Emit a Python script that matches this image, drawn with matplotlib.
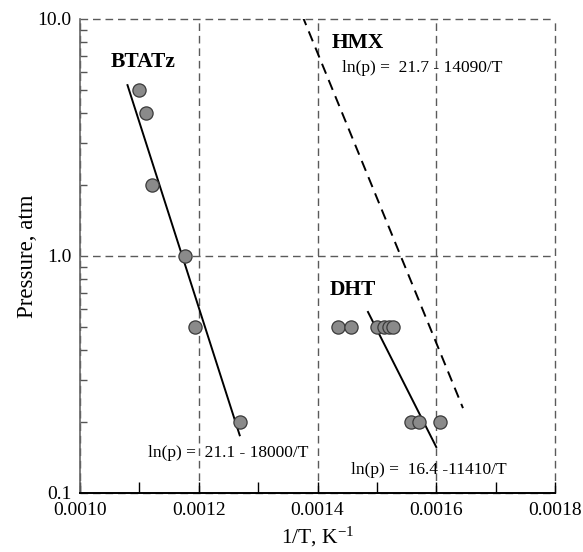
import numpy as np
import matplotlib
matplotlib.use("Agg")
import matplotlib.pyplot as plt
from matplotlib.ticker import FixedLocator, LogLocator, NullFormatter, MultipleLocator

plt.rcParams["font.family"] = ["Liberation Serif", "DejaVu Serif"]
plt.rcParams["mathtext.default"] = "regular"

# measured points (1/T, pressure in atm)
btatz_x = [0.001100, 0.001112, 0.001121, 0.001177, 0.001193, 0.001269]
btatz_p = [5.0, 4.0, 2.0, 1.0, 0.5, 0.2]
dht_x = [0.001435, 0.001457, 0.001500, 0.001512, 0.001520, 0.001527,
         0.001557, 0.001571, 0.001606]
dht_p = [0.5, 0.5, 0.5, 0.5, 0.5, 0.5, 0.2, 0.2, 0.2]

# fitted lines ln(p) = a - b/T, with the 1/T range each is drawn over
btatz_fit = (21.1, 18000, 0.00108, 0.001269)
dht_fit = (16.4, 11410, 0.001485, 0.0016)
hmx_fit = (21.7, 14090, 0.00136, 0.001645)

fig = plt.figure(figsize=(5.83, 5.52), dpi=100)
ax = fig.add_axes([0.1372, 0.1069, 0.8148, 0.8587])

grid_dash = (0, (5.5, 3.5))
grid_col = "#5a5a5a"
ax.set_axisbelow(True)
ax.grid(True, which="major", linestyle=grid_dash, color=grid_col, linewidth=1.0)


def fit_line(fit, **kw):
    a, b, x0, x1 = fit
    xs = np.array([x0, x1])
    ax.plot(xs, np.exp(a - b * xs), **kw)


fit_line(btatz_fit, color="black", linewidth=1.4)
fit_line(dht_fit, color="black", linewidth=1.4)
fit_line(hmx_fit, color="black", linewidth=1.4, linestyle=(0, (5.5, 3.5)))

marker = dict(linestyle="none", marker="o", markersize=9.5,
              markerfacecolor="#8a8a8a", markeredgecolor="#3a3a3a",
              markeredgewidth=0.9, zorder=3)
ax.plot(btatz_x, btatz_p, **marker)
ax.plot(dht_x, dht_p, **marker)

ax.set_yscale("log")
ax.set_xlim(0.0010, 0.0018)
ax.set_ylim(0.1, 10.0)
ax.xaxis.set_major_locator(MultipleLocator(0.0002))
ax.xaxis.set_minor_locator(MultipleLocator(0.0001))
ax.xaxis.set_major_formatter(matplotlib.ticker.FormatStrFormatter("%.4f"))
ax.yaxis.set_major_locator(FixedLocator([0.1, 1.0, 10.0]))
ax.yaxis.set_major_formatter(matplotlib.ticker.FormatStrFormatter("%.1f"))
ax.yaxis.set_minor_locator(LogLocator(base=10, subs=np.arange(2, 10)))
ax.yaxis.set_minor_formatter(NullFormatter())

ax.tick_params(axis="both", which="both", direction="in", labelsize=14,
               top=False, right=False)
ax.tick_params(axis="x", which="both", length=8, width=1.0, pad=6.5)
ax.tick_params(axis="y", which="minor", length=5, width=1.0, color="#555555")
ax.tick_params(axis="y", which="major", length=0, pad=6)

# top and right edges are just the dashed grid lines
ax.spines["top"].set_visible(False)
ax.spines["right"].set_visible(False)
for gl in ax.get_xgridlines() + ax.get_ygridlines():
    gl.set_clip_on(False)
ax.spines["left"].set_color("#666666")
ax.spines["left"].set_linewidth(1.2)
ax.spines["bottom"].set_linewidth(1.4)

ax.set_xlabel("1/T, K$^{-1}$", fontsize=15.5, labelpad=4)
ax.set_ylabel("Pressure, atm", fontsize=16.5, labelpad=0)

ax.text(0.001052, 6.59, "BTATz", fontsize=15.5, fontweight="bold",
        ha="left", va="center")
ax.text(0.001424, 7.94, "HMX", fontsize=15.5, fontweight="bold",
        ha="left", va="center")
ax.text(0.001421, 0.719, "DHT", fontsize=15.5, fontweight="bold",
        ha="left", va="center")
ax.text(0.001441, 6.21, "ln(p) =  21.7 - 14090/T", fontsize=12.5,
        ha="left", va="center")
ax.text(0.001456, 0.125, "ln(p) =  16.4 -11410/T", fontsize=12.5,
        ha="left", va="center")
ax.text(0.001115, 0.148, "ln(p) =  21.1 - 18000/T", fontsize=12.5,
        ha="left", va="center")

fig.savefig("out.png", dpi=100)
